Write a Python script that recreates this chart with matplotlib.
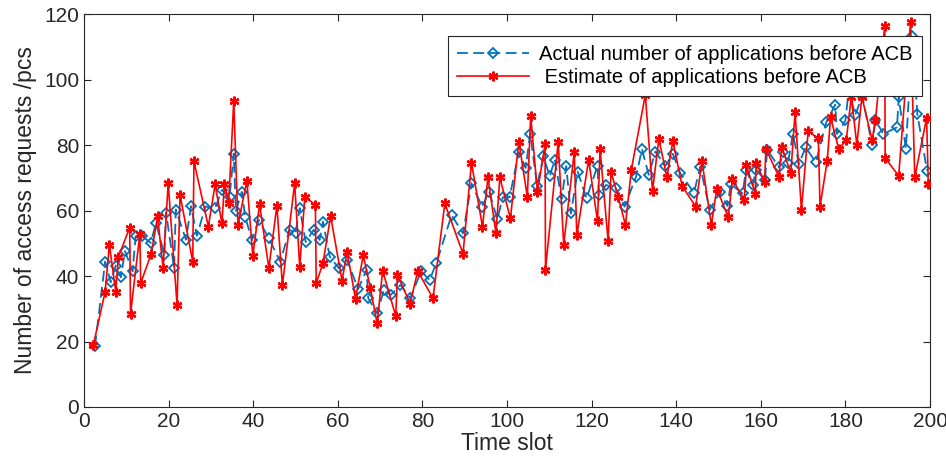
import matplotlib
matplotlib.use("Agg")
import matplotlib.pyplot as plt

plt.rcParams["font.family"] = ["Liberation Sans", "DejaVu Sans"]

# actual number of applications (blue dashed, diamonds)
actual_t = [2.6, 5.0, 6.3, 7.5, 8.7, 9.7, 11.5, 12.2, 13.8, 15.8, 17.0, 19.0, 19.4, 21.3, 21.7,
            24.1, 25.3, 26.7, 28.7, 31.0, 32.6, 34.4, 35.4, 35.9, 37.3, 38.1, 39.7, 41.3, 43.7,
            46.4, 48.6, 50.0, 51.0, 52.4, 54.3, 55.7, 56.5, 58.1, 60.3, 62.2, 64.8, 66.8, 67.2,
            69.3, 70.9, 72.5, 74.8, 77.1, 79.7, 81.7, 83.3, 86.9, 89.6, 91.6, 94.1, 95.8, 97.7,
            99.0, 100.6, 102.8, 104.4, 105.5, 107.1, 108.6, 110.1, 111.3, 112.9, 114.0, 115.1,
            116.7, 118.8, 121.4, 121.7, 123.4, 125.7, 127.8, 130.5, 131.9, 133.5, 135.1, 137.4,
            139.2, 141.0, 144.2, 145.7, 147.9, 150.3, 152.1, 152.9, 155.7, 156.5, 158.1, 158.9,
            161.0, 161.5, 164.3, 165.3, 166.4, 167.6, 169.0, 170.6, 173.0, 175.5, 177.6, 178.0,
            180.0, 180.8, 182.3, 184.0, 186.3, 187.1, 189.0, 192.2, 192.6, 194.3, 195.8, 197.0,
            199.3]
actual_v = [18.6, 44.4, 38.1, 43.2, 39.6, 47.6, 41.4, 52.1, 52.1, 50.1, 56.2, 46.5, 59.3, 42.4, 60.3,
            51.1, 61.3, 52.3, 61.2, 60.7, 66.3, 64.0, 77.4, 59.9, 65.7, 58.1, 51.0, 57.1, 51.5,
            44.4, 54.1, 53.0, 60.7, 50.4, 54.1, 51.0, 56.6, 45.9, 42.3, 44.9, 36.0, 41.9, 33.2,
            28.6, 35.8, 34.2, 37.3, 33.2, 41.4, 38.8, 43.9, 58.6, 53.0, 68.3, 61.2, 65.8, 57.3,
            64.0, 64.0, 77.8, 73.0, 83.5, 67.6, 76.5, 70.5, 75.5, 63.5, 73.5, 59.1,
            71.9, 63.7, 73.6, 64.7, 67.8, 66.8, 61.2, 70.3, 78.7, 70.9, 78.0, 73.6,
            77.3, 71.3, 65.4, 73.4, 60.2, 65.5, 61.4, 68.0, 65.2, 72.4, 67.8, 72.4,
            69.3, 78.6, 73.2, 78.0, 74.4, 83.4, 74.2, 79.3, 74.7, 87.0, 92.3, 83.4,
            87.5, 97.0, 89.1, 95.0, 80.1, 87.5, 83.4, 85.4, 94.6, 78.8, 113.4, 89.5,
            72.2]

# estimated number of applications (red, asterisks)
estimate_t = [2.2, 5.0, 6.0, 7.5, 8.1, 10.8, 11.0, 13.2, 13.4, 15.9, 17.4, 18.7, 19.9, 22.0, 22.7,
              25.7, 26.0, 29.4, 31.0, 32.6, 33.2, 34.2, 35.4, 36.4, 38.5, 39.9, 41.5, 43.7, 45.6,
              46.9, 49.8, 51.0, 52.2, 54.7, 54.9, 56.5, 58.3, 61.0, 62.2, 64.2, 66.0, 67.7, 69.3,
              70.6, 73.7, 74.1, 77.1, 78.9, 82.5, 85.3, 89.6, 91.6, 94.2, 95.5, 97.4, 98.3,
              100.8, 102.8, 104.8, 105.6, 107.2, 109.0, 109.1, 112.1, 113.4, 115.9, 116.5, 119.3,
              121.4, 122.0, 123.9, 124.6, 126.3, 128.0, 129.4, 132.7, 134.4, 135.9, 137.8, 139.2,
              141.4, 144.6, 146.1, 148.3, 149.6, 152.3, 153.3, 156.1, 156.6, 158.7, 158.9, 160.9,
              161.2, 164.3, 164.9, 167.1, 168.1, 169.6, 171.2, 173.6, 174.0, 175.7, 176.5, 178.4,
              180.2, 181.4, 182.7, 183.9, 186.3, 187.1, 189.3, 189.4, 192.6, 195.4, 196.4, 199.2,
              199.6]
estimate_v = [18.9, 35.2, 49.6, 35.2, 45.7, 54.8, 28.4, 52.8, 37.8, 46.8, 58.2, 42.4, 68.4, 31.2, 64.8,
              44.4, 75.0, 55.1, 68.0, 56.1, 68.0, 62.4, 93.4, 55.6, 69.1, 46.2, 61.9, 42.4, 61.5,
              37.2, 68.3, 42.9, 64.2, 61.7, 37.8, 43.9, 58.3, 38.6, 47.4, 32.9, 46.4, 36.3, 25.5,
              41.6, 27.8, 40.3, 31.6, 41.5, 33.2, 62.2, 46.8, 74.6, 55.1, 70.1, 53.0, 70.1,
              57.6, 81.0, 64.2, 88.8, 65.6, 80.2, 41.9, 80.9, 49.6, 77.8, 52.5, 75.4,
              56.8, 78.7, 50.8, 71.8, 64.0, 55.6, 72.5, 95.3, 66.0, 81.9, 70.1, 81.3,
              67.5, 61.2, 75.1, 55.6, 66.7, 57.9, 69.5, 63.2, 73.8, 65.1, 74.5, 68.6,
              78.8, 70.3, 79.5, 71.4, 90.0, 60.3, 84.2, 82.0, 61.2, 75.2, 88.5, 78.8,
              81.5, 94.7, 80.1, 94.7, 81.5, 87.5, 116.4, 76.0, 70.6, 117.5, 70.1, 88.3,
              68.0]

fig = plt.figure(figsize=(9.46, 4.74), dpi=100)
ax = fig.add_axes([84 / 946, 67 / 474, 846 / 946, 393 / 474])

ax.plot(actual_t, actual_v, color="#0072BD", linestyle=(0, (6, 3)), linewidth=1.3,
        marker="D", markersize=5, markerfacecolor="none", markeredgewidth=1.3,
        label="Actual number of applications before ACB", zorder=2)
ax.plot(estimate_t, estimate_v, color="red", linewidth=1.2,
        marker=(6, 2, 0), markersize=7, markeredgewidth=1.7,
        label=" Estimate of applications before ACB", zorder=3)

ax.set_xlim(0, 200)
ax.set_ylim(0, 120)
ax.set_xticks(range(0, 201, 20))
ax.set_yticks(range(0, 121, 20))
ax.tick_params(direction="in", labelsize=15, colors="#262626", length=5, top=True, right=True,
               labeltop=False, labelright=False)
for s in ax.spines.values():
    s.set_color("#262626")
    s.set_linewidth(0.8)

ax.set_xlabel("Time slot", fontsize=16.5, color="#262626", labelpad=1)
ax.set_ylabel("Number of access requests /pcs", fontsize=16.5, color="#262626", labelpad=5)

leg = ax.legend(loc="upper right", bbox_to_anchor=(922 / 946, 1 - 36 / 474),
                bbox_transform=fig.transFigure, borderaxespad=0, fontsize=14.5,
                fancybox=False, framealpha=1, edgecolor="#262626", handlelength=3.6,
                borderpad=0.45, labelspacing=0.2, handletextpad=0.5)
leg.get_frame().set_linewidth(0.8)
leg.set_zorder(5)

fig.savefig("out.png", dpi=100)
